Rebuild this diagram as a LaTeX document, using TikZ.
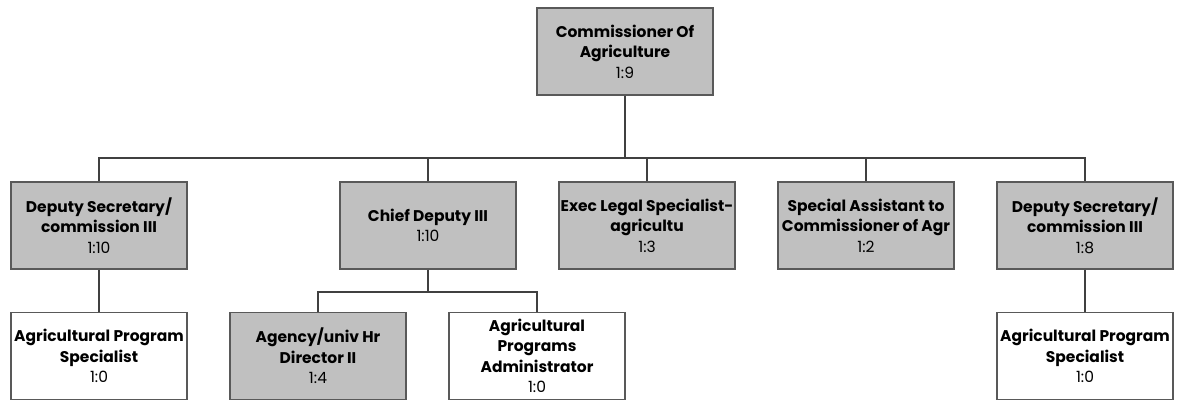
\documentclass[tikz,border=0pt]{standalone}
\usepackage{fontspec}
\setmainfont{Poppins}
\usetikzlibrary{positioning}
\definecolor{boxgray}{HTML}{C0C0C0}
\definecolor{edgegray}{HTML}{595959}
\definecolor{linkgray}{HTML}{404040}

\begin{document}
\begin{tikzpicture}[x=1pt,y=-1pt,
    post/.style={draw=edgegray,line width=1.1pt,fill=boxgray,minimum width=176pt,
      minimum height=87pt,inner sep=0pt,align=center,font=\fontsize{15.5}{20.5}\selectfont},
    vacant/.style={post,fill=white},
    link/.style={draw=linkgray,line width=2.2pt}]
  \useasboundingbox (0,0) rectangle (1177,401);
  % top
  \node[post] (comm) at (625,51.5) {\textbf{Commissioner Of}\\\textbf{Agriculture}\\1:9};
  % second row
  \node[post] (dep1) at (99,225.5) {\textbf{Deputy Secretary/}\\\textbf{commission III}\\1:10};
  \node[post] (chief) at (428,225.5) {\textbf{Chief Deputy III}\\1:10};
  \node[post] (legal) at (647,225.5) {\textbf{Exec Legal Specialist-}\\\textbf{agricultu}\\1:3};
  \node[post] (assist) at (866,225.5) {\textbf{Special Assistant to}\\\textbf{Commissioner of Agr}\\1:2};
  \node[post] (dep2) at (1085,225.5) {\textbf{Deputy Secretary/}\\\textbf{commission III}\\1:8};
  % third row
  \node[vacant] (spec1) at (99,356) {\textbf{Agricultural Program}\\\textbf{Specialist}\\1:0};
  \node[post] (hr) at (318,356) {\textbf{Agency/univ Hr}\\\textbf{Director II}\\1:4};
  \node[vacant] (admin) at (537,356) {\textbf{Agricultural}\\\textbf{Programs}\\\textbf{Administrator}\\1:0};
  \node[vacant] (spec2) at (1085,356) {\textbf{Agricultural Program}\\\textbf{Specialist}\\1:0};
  % connectors
  \coordinate (bus) at (625,158);
  \coordinate (chiefbus) at (428,292);
  \draw[link] (comm) -- (bus);
  \draw[link] (dep1.north) |- (bus) -| (dep2.north);
  \draw[link] (chief.north) -- (chief.north |- bus);
  \draw[link] (legal.north) -- (legal.north |- bus);
  \draw[link] (assist.north) -- (assist.north |- bus);
  \draw[link] (dep1) -- (spec1);
  \draw[link] (dep2) -- (spec2);
  \draw[link] (chief) -- (chiefbus);
  \draw[link] (hr.north) |- (chiefbus) -| (admin.north);
\end{tikzpicture}
\end{document}
